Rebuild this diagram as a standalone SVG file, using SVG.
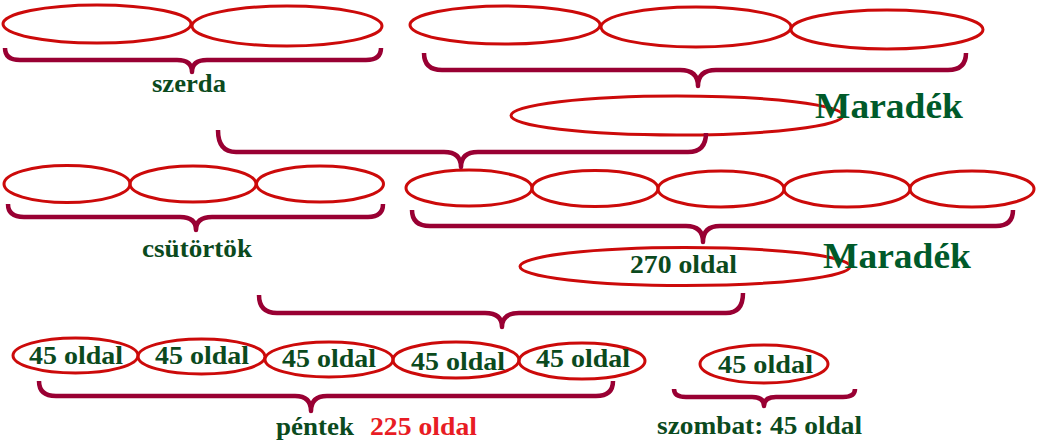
<svg xmlns="http://www.w3.org/2000/svg" width="1039" height="446" viewBox="0 0 1039 446">
<style>
.el{fill:none;stroke:#cc0a0a;stroke-width:3}
.br{fill:none;stroke:#990033;stroke-width:4.5;stroke-linecap:butt;stroke-linejoin:round}
.t{font-family:"Liberation Serif","Times New Roman",serif;font-weight:bold;font-size:25px;fill:#0b4a1d}
.m{font-family:"Liberation Serif","Times New Roman",serif;font-weight:bold;font-size:36px;fill:#005a2a}
.r{fill:#e81c24}
</style>
<rect width="1039" height="446" fill="#ffffff"/>
<g id="szerda">
<ellipse class="el" cx="97" cy="24" rx="94" ry="19"/>
<ellipse class="el" cx="287" cy="26" rx="95" ry="20"/>
<text class="t" x="152" y="92" textLength="74" lengthAdjust="spacingAndGlyphs">szerda</text>
</g>
<g id="maradek1-parts">
<ellipse class="el" cx="505" cy="25" rx="95" ry="19"/>
<ellipse class="el" cx="696" cy="27" rx="95" ry="20"/>
<ellipse class="el" cx="887" cy="29.5" rx="96" ry="19.5"/>
</g>
<g id="maradek1">
<ellipse class="el" cx="677" cy="115.5" rx="166" ry="19.5"/>
<text class="m" x="815" y="118" textLength="148" lengthAdjust="spacingAndGlyphs">Maradék</text>
</g>
<g id="csutortok">
<ellipse class="el" cx="67" cy="184" rx="63" ry="18.5"/>
<ellipse class="el" cx="193" cy="184" rx="63" ry="18"/>
<ellipse class="el" cx="320" cy="184" rx="63.5" ry="18"/>
<text class="t" x="142" y="257" textLength="110" lengthAdjust="spacingAndGlyphs">csütörtök</text>
</g>
<g id="maradek2-parts">
<ellipse class="el" cx="469" cy="188" rx="63" ry="18"/>
<ellipse class="el" cx="595" cy="188.5" rx="63" ry="18"/>
<ellipse class="el" cx="721" cy="189" rx="63" ry="18"/>
<ellipse class="el" cx="847" cy="189" rx="63" ry="18"/>
<ellipse class="el" cx="972" cy="189" rx="62" ry="18"/>
</g>
<g id="maradek2">
<ellipse class="el" cx="685" cy="266.5" rx="165" ry="19"/>
<text class="t" x="630" y="273" font-size="26" textLength="107" lengthAdjust="spacingAndGlyphs">270 oldal</text>
<text class="m" x="823" y="268" textLength="148" lengthAdjust="spacingAndGlyphs">Maradék</text>
</g>
<g id="pentek">
<ellipse class="el" cx="75.5" cy="355.5" rx="62.5" ry="17.5"/>
<ellipse class="el" cx="201.5" cy="356.5" rx="63.5" ry="17.5"/>
<ellipse class="el" cx="329" cy="359.5" rx="64" ry="17.5"/>
<ellipse class="el" cx="456" cy="360" rx="63" ry="18"/>
<ellipse class="el" cx="582" cy="361" rx="63" ry="18"/>
<text class="t" x="29" y="364" textLength="94" lengthAdjust="spacingAndGlyphs">45 oldal</text>
<text class="t" x="155" y="364" textLength="94" lengthAdjust="spacingAndGlyphs">45 oldal</text>
<text class="t" x="282" y="367" textLength="94" lengthAdjust="spacingAndGlyphs">45 oldal</text>
<text class="t" x="411" y="370" textLength="94" lengthAdjust="spacingAndGlyphs">45 oldal</text>
<text class="t" x="536" y="367" textLength="94" lengthAdjust="spacingAndGlyphs">45 oldal</text>
<text class="t" x="276" y="435" textLength="78" lengthAdjust="spacingAndGlyphs">péntek</text>
<text class="t r" x="370" y="435" textLength="107" lengthAdjust="spacingAndGlyphs">225 oldal</text>
</g>
<g id="szombat">
<ellipse class="el" cx="764" cy="364" rx="64" ry="19"/>
<text class="t" x="718" y="373" textLength="95" lengthAdjust="spacingAndGlyphs">45 oldal</text>
<text class="t" x="657" y="434" textLength="205" lengthAdjust="spacingAndGlyphs">szombat: 45 oldal</text>
</g>
<g id="connectors">
<path class="br" d="M5,48 Q5,60 20,60 L177,60 Q192,60 192,72 Q192,60 207,60 L366,60 Q381,60 381,48"/>
<path class="br" d="M424,53 Q424,70 442,70 L680,70 Q698,70 698,86 Q698,70 716,70 L948,70 Q966,70 966,53"/>
<path class="br" d="M218,130 Q218,152 236,152 L444,152 Q461,152 461,167 Q461,152 478,152 L688,152 Q706,152 706,133"/>
<path class="br" d="M8,204 Q8,217 24,217 L180,217 Q196,217 196,230 Q196,217 212,217 L368,217 Q383,217 383,204"/>
<path class="br" d="M412,210 Q412,226 430,226 L686,226 Q703,226 703,242 Q703,226 720,226 L996,226 Q1013,226 1013,210"/>
<path class="br" d="M259,295 Q259,313 277,313 L485,313 Q502,313 502,327 Q502,313 519,313 L726,313 Q743,313 743,293"/>
<path class="br" d="M39,381 Q39,396 56,396 L295,396 Q311,396 311,411 Q311,396 327,396 L596,396 Q613,396 613,381"/>
<path class="br" d="M674,389 Q674,397 686,397 L752,397 Q764,397 764,406 Q764,397 776,397 L843,397 Q855,397 855,389"/>
</g>
</svg>
